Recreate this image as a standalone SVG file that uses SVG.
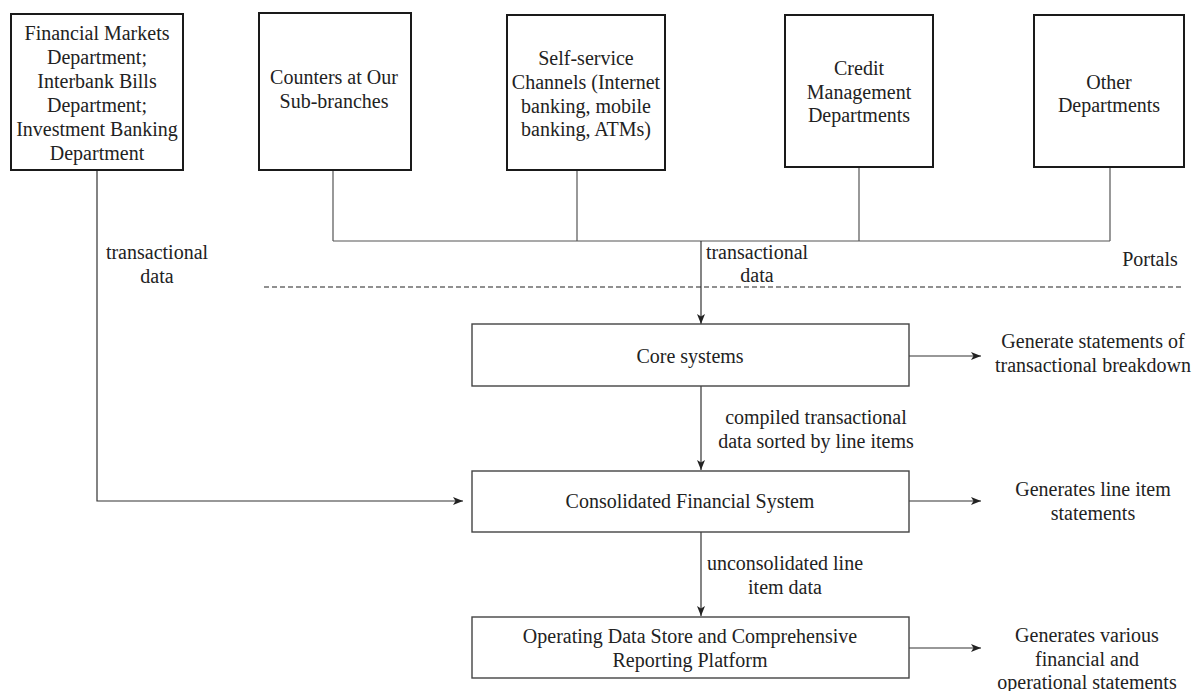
<svg xmlns="http://www.w3.org/2000/svg" width="1197" height="691" viewBox="0 0 1197 691">
<style>
text{font-family:'Liberation Serif','DejaVu Serif',serif;font-size:20px;fill:#222;text-anchor:middle}
.top{fill:#fff;stroke:#1a1a1a;stroke-width:2}
.sys{fill:#fff;stroke:#444;stroke-width:1.4}
.ln{fill:none;stroke:#555;stroke-width:1.2}
.ar{fill:none;stroke:#333;stroke-width:1.2;marker-end:url(#ah)}
.dash{fill:none;stroke:#222;stroke-width:1.2;stroke-dasharray:5 3}
</style>
<defs>
<marker id="ah" markerUnits="userSpaceOnUse" markerWidth="10" markerHeight="8" refX="10" refY="4" orient="auto">
<path d="M0,0 L10,4 L0,8 L2.5,4 Z" fill="#222"/>
</marker>
</defs>
<rect width="1197" height="691" fill="#fff"/>

<g id="connectors">
<path class="ln" d="M333,170 V241 M577,170 V241 M859,167 V241 M1110,167 V241 M333,241 H1110"/>
<path class="ar" d="M701,241 V324"/>
<path class="ar" d="M97,170 V501 H463"/>
<path class="ar" d="M701,386 V470"/>
<path class="ar" d="M701,532 V616"/>
<path class="ar" d="M909,356 H981"/>
<path class="ar" d="M909,501 H981"/>
<path class="ar" d="M909,648 H981"/>
<path class="dash" d="M264,287 H1182"/>
<text x="157" y="259">transactional</text>
<text x="157" y="283">data</text>
<text x="757" y="259">transactional</text>
<text x="757" y="282">data</text>
<text x="816" y="424">compiled transactional</text>
<text x="816" y="448">data sorted by line items</text>
<text x="785" y="570">unconsolidated line</text>
<text x="785" y="594">item data</text>
</g>

<g id="portals-label"><text x="1150" y="266">Portals</text></g>

<g id="financial-markets">
<rect class="top" x="11" y="14" width="172" height="156"/>
<text x="97" y="40">Financial Markets</text>
<text x="97" y="64">Department;</text>
<text x="97" y="88">Interbank Bills</text>
<text x="97" y="112">Department;</text>
<text x="97" y="136">Investment Banking</text>
<text x="97" y="160">Department</text>
</g>
<g id="counters">
<rect class="top" x="259" y="13" width="152" height="157"/>
<text x="334" y="84">Counters at Our</text>
<text x="334" y="108">Sub-branches</text>
</g>
<g id="self-service">
<rect class="top" x="507" y="15" width="158" height="155"/>
<text x="586" y="65">Self-service</text>
<text x="586" y="89">Channels (Internet</text>
<text x="586" y="113">banking, mobile</text>
<text x="586" y="136">banking, ATMs)</text>
</g>
<g id="credit">
<rect class="top" x="785" y="15" width="148" height="152"/>
<text x="859" y="75">Credit</text>
<text x="859" y="99">Management</text>
<text x="859" y="122">Departments</text>
</g>
<g id="other">
<rect class="top" x="1034" y="15" width="150" height="152"/>
<text x="1109" y="89">Other</text>
<text x="1109" y="112">Departments</text>
</g>

<g id="core">
<rect class="sys" x="472" y="324" width="437" height="62"/>
<text x="690" y="363">Core systems</text>
</g>
<g id="core-out">
<text x="1093" y="348">Generate statements of</text>
<text x="1093" y="372">transactional breakdown</text>
</g>
<g id="cfs">
<rect class="sys" x="472" y="471" width="437" height="61"/>
<text x="690" y="508">Consolidated Financial System</text>
</g>
<g id="cfs-out">
<text x="1093" y="496">Generates line item</text>
<text x="1093" y="520">statements</text>
</g>
<g id="ods">
<rect class="sys" x="472" y="617" width="437" height="61"/>
<text x="690" y="643">Operating Data Store and Comprehensive</text>
<text x="690" y="667">Reporting Platform</text>
</g>
<g id="ods-out">
<text x="1087" y="642">Generates various</text>
<text x="1087" y="666">financial and</text>
<text x="1087" y="689">operational statements</text>
</g>
</svg>
